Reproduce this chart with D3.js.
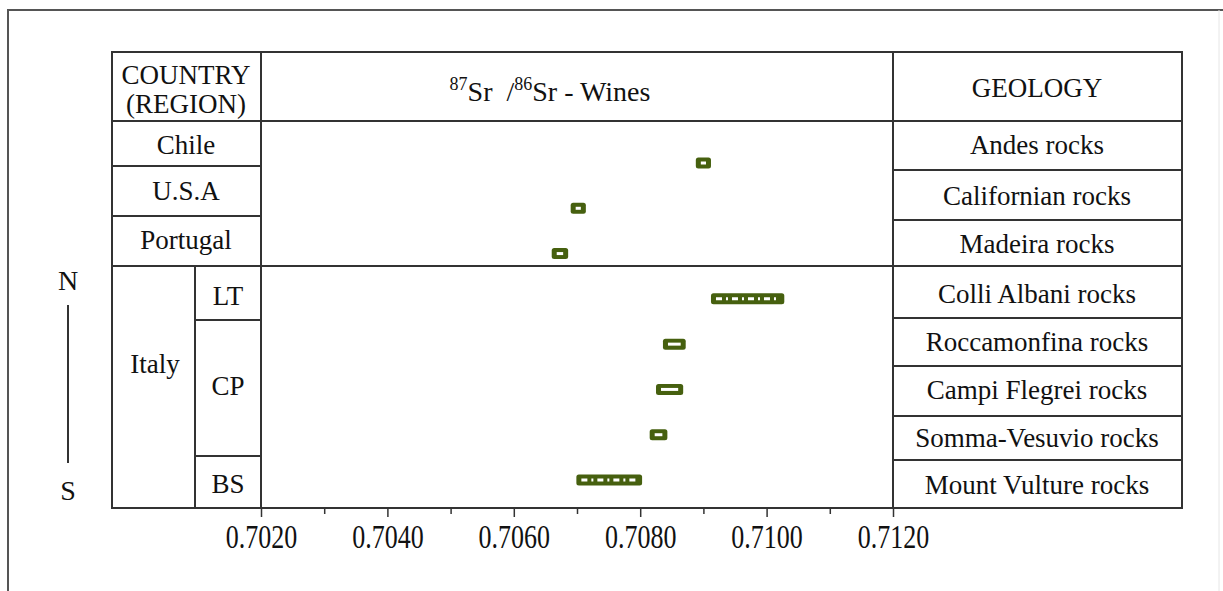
<!DOCTYPE html>
<html>
<head>
<meta charset="utf-8">
<script src="https://cdn.jsdelivr.net/npm/d3@7"></script>
<style>
  body { margin: 0; background: #fff; }
  text { font-family: "Liberation Serif", "DejaVu Serif", serif; fill: #111; }
</style>
</head>
<body>
<div id="chart"></div>
<script>
// data
var samples = ["Chile", "U.S.A", "Portugal", "LT", "Roccamonfina", "Campi Flegrei", "Somma-Vesuvio", "Mount Vulture"];
var lowVals  = [0.70888, 0.70690, 0.70660, 0.70912, 0.70836, 0.70825, 0.70815, 0.70699];
var highVals = [0.70912, 0.70714, 0.70686, 0.71028, 0.70872, 0.70868, 0.70843, 0.70803];
var geology = ["Andes rocks", "Californian rocks", "Madeira rocks", "Colli Albani rocks",
               "Roccamonfina rocks", "Campi Flegrei rocks", "Somma-Vesuvio rocks", "Mount Vulture rocks"];
var countries = ["Chile", "U.S.A", "Portugal"];
var italyRegions = ["LT", "CP", "BS"];
var tickVals = [0.7020, 0.7040, 0.7060, 0.7080, 0.7100, 0.7120];
var minorTicks = [0.7030, 0.7050, 0.7070, 0.7090, 0.7110];

var W = 1223, H = 591;
var svg = d3.select("#chart").append("svg")
    .attr("width", W)
    .attr("height", H);

// table layout
var tLeft = 112, plotL = 261, plotR = 893, tRight = 1182;
var tTop = 52, headB = 121, tBottom = 508, italyTop = 266;
var lineCol = "#333";
var fs = "27px";

// outer frame
svg.append("path")
    .attr("d", "M8,600 L8,10 L1223,10")
    .attr("fill", "none").attr("stroke", "#555").attr("stroke-width", 2);
svg.append("line")
    .attr("x1", 1219).attr("x2", 1219).attr("y1", 10).attr("y2", 591)
    .attr("stroke", "#e6e6e6").attr("stroke-width", 1);

var x = d3.scaleLinear().domain([0.7020, 0.7120]).range([plotL, plotR]);
var y = d3.scalePoint().domain(samples).range([163, 480]);

var g = svg.append("g");
function hline(x1, x2, yy) {
  g.append("line").attr("x1", x1).attr("x2", x2).attr("y1", yy).attr("y2", yy)
    .attr("stroke", lineCol).attr("stroke-width", 2);
}
function vline(xx, y1, y2) {
  g.append("line").attr("x1", xx).attr("x2", xx).attr("y1", y1).attr("y2", y2)
    .attr("stroke", lineCol).attr("stroke-width", 2);
}

// outer box and main grid
hline(tLeft - 1, tRight + 1, tTop);
hline(tLeft, tRight, headB);
hline(tLeft, tRight, italyTop);
hline(tLeft - 1, tRight + 1, tBottom);
vline(tLeft, tTop, tBottom);
vline(plotL, tTop, tBottom);
vline(plotR, tTop, tBottom);
vline(tRight, tTop, tBottom);

// left rows
hline(tLeft, plotL, 166);
hline(tLeft, plotL, 216);
vline(195, italyTop, tBottom);
hline(195, plotL, 320);
hline(195, plotL, 456);

// right rows
var geoLines = [170, 220, 318, 366, 416, 460];
geoLines.forEach(function(v) { hline(plotR, tRight, v); });
var geoCenters = [145, 196, 244, 294, 342, 390, 438, 485];

function label(tx, ty, str, size) {
  return g.append("text").attr("x", tx).attr("y", ty).attr("text-anchor", "middle")
    .style("font-size", size || fs).text(str);
}

// header texts
label(186, 84, "COUNTRY");
label(186, 113, "(REGION)");
label(1037, 97, "GEOLOGY");

var ht = g.append("text").attr("x", 550).attr("y", 101).attr("text-anchor", "middle")
    .style("font-size", "28px").style("white-space", "pre");
ht.append("tspan").attr("dy", -11).style("font-size", "18px").text("87");
ht.append("tspan").attr("dy", 11).text("Sr  /");
ht.append("tspan").attr("dy", -11).style("font-size", "18px").text("86");
ht.append("tspan").attr("dy", 11).text("Sr - Wines");

// country labels
var countryCenters = [145, 191, 240];
countries.forEach(function(c, i) { label(186, countryCenters[i] + 9, c); });
label(155, 373, "Italy");
var regionCenters = [296, 386, 484];
italyRegions.forEach(function(c, i) { label(228, regionCenters[i] + 9, c); });

// geology labels
geology.forEach(function(c, i) { label(1037, geoCenters[i] + 9, c); });

// N - S indicator
label(68, 290, "N", "28px");
g.append("line").attr("x1", 68).attr("x2", 68).attr("y1", 305).attr("y2", 463)
    .attr("stroke", lineCol).attr("stroke-width", 2);
label(68, 500, "S", "28px");

// x axis
var axis = svg.append("g")
    .attr("transform", "translate(0," + tBottom + ")")
    .call(d3.axisBottom(x).tickValues(tickVals).tickSize(9)
      .tickFormat(d3.format(".4f")));
axis.select(".domain").remove();
axis.selectAll("line").attr("stroke", lineCol).attr("stroke-width", 1.5);
axis.selectAll("text")
    .style("font-size", "26px")
    .style("font-family", "'Liberation Serif', serif")
    .attr("fill", "#111")
    .attr("dy", null)
    .attr("y", 40 / 1.3)
    .attr("transform", "scale(1,1.3)");

var minor = svg.append("g")
    .attr("transform", "translate(0," + tBottom + ")")
    .call(d3.axisBottom(x).tickValues(minorTicks).tickSize(6).tickFormat(""));
minor.select(".domain").remove();
minor.selectAll("line").attr("stroke", lineCol).attr("stroke-width", 1.5);

// bars
var data = samples.map(function(s, i) {
  return { name: s, lo: lowVals[i], hi: highVals[i] };
});
var bh = 11;
var bars = svg.selectAll("g.bar").data(data).enter().append("g").attr("class", "bar");
bars.append("rect")
    .attr("x", function(d) { return x(d.lo); })
    .attr("y", function(d) { return y(d.name) - bh / 2; })
    .attr("width", function(d) { return x(d.hi) - x(d.lo); })
    .attr("height", bh)
    .attr("rx", 2.5)
    .attr("fill", "#46600f");
bars.append("line")
    .attr("x1", function(d) { return x(d.lo) + 5; })
    .attr("x2", function(d) { return x(d.hi) - 5; })
    .attr("y1", function(d) { return y(d.name); })
    .attr("y2", function(d) { return y(d.name); })
    .attr("stroke", "#fff")
    .attr("stroke-width", 3)
    .attr("stroke-dasharray", function(d) {
      return (x(d.hi) - x(d.lo)) > 30 ? "6,4,2,4" : null;
    });
</script>
</body>
</html>
